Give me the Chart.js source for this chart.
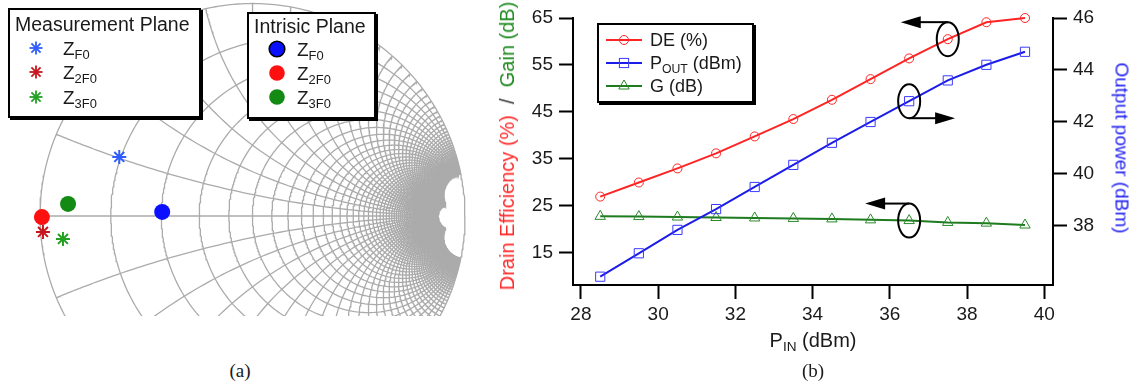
<!DOCTYPE html>
<html>
<head>
<meta charset="utf-8">
<script src="https://cdn.jsdelivr.net/npm/chart.js@4.4.0/dist/chart.umd.min.js"></script>
<style>
  body { margin: 0; background: #fff; font-family: "Liberation Sans", Arial, sans-serif; color: #1a1a1a; }
  #page { position: relative; width: 1134px; height: 387px; overflow: hidden; background: #fff; }
  canvas { position: absolute; }
  #smith { left: 0; top: 0; }
  #perf { left: 490px; top: 0; }
  .box { position: absolute; background: #fff; border: 2px solid #000; box-shadow: 2px 2px 0 #000; box-sizing: border-box; }
  .txt { position: absolute; white-space: nowrap; line-height: 1; }
  .txt sub { font-size: 0.68em; vertical-align: -0.3em; line-height: 1; }
  .mk { position: absolute; }
  .cap { font-family: "Liberation Serif", "Times New Roman", serif; font-size: 19px; transform: translate(-50%, 0); }
</style>
</head>
<body>
<div id="page">
  <canvas id="smith" width="480" height="316"></canvas>
  <canvas id="perf" width="644" height="387"></canvas>
</div>
<script>
// ---------- panel (b): PA performance vs input power ----------
const pinDbm    = [28.5, 29.5, 30.5, 31.5, 32.5, 33.5, 34.5, 35.5, 36.5, 37.5, 38.5, 39.5];
const drainEff  = [27.0, 30.0, 33.0, 36.2, 39.8, 43.5, 47.6, 52.0, 56.4, 60.5, 64.1, 65.0];
const poutDbm   = [36.05, 36.95, 37.85, 38.65, 39.5, 40.35, 41.2, 42.0, 42.8, 43.6, 44.2, 44.7];
const gainDb    = [22.8, 22.75, 22.65, 22.55, 22.45, 22.35, 22.25, 22.05, 21.9, 21.5, 21.35, 20.95];
const pinTicks  = [28, 30, 32, 34, 36, 38, 40];
const leftTicks = [15, 25, 35, 45, 55, 65];
const rightTicks = [38, 40, 42, 44, 46];

// ---------- panel (a): reflection coefficients ----------
const harmonics   = ['F0', '2F0', '3F0'];
const measGammaRe = [-0.627, -0.986, -0.892];
const measGammaIm = [0.278, -0.075, -0.108];
const intrGammaRe = [-0.425, -0.991, -0.868];
const intrGammaIm = [0.019, -0.005, 0.057];
const measColors  = ['#2f5cff', '#c8141e', '#22a022'];
const intrColors  = ['#0a10ff', '#ff1010', '#138a13'];

// Smith chart grid: constant r circles and constant x arcs in 0.2 steps
const rLimit = 15;   // x arcs stop on this resistance circle
const xLimit = 10;   // r circles stop at this reactance
const gridR = [];
for (let i = 1; i <= 50; i++) gridR.push(+(i * 0.2).toFixed(1));
const gridX = gridR.concat(gridR.map(v => -v));

function gamma(r, x) {
    const den = (r + 1) * (r + 1) + x * x;
    return { x: (r * r + x * x - 1) / den, y: 2 * x / den };
}

function buildSmithGrid() {
    const style = { borderColor: '#ababab', borderWidth: 1.3, pointRadius: 0, showLine: true, fill: false, order: 5 };
    const sets = [];
    const ring = [];
    for (let i = 0; i <= 360; i++) {
        const a = i * Math.PI / 180;
        ring.push({ x: Math.cos(a), y: Math.sin(a) });
    }
    sets.push({ ...style, data: ring });
    sets.push({ ...style, data: [gamma(0, 0), gamma(rLimit, 0)] });
    gridR.forEach(r => {
        const pts = [];
        for (let i = -200; i <= 200; i++) {
            const t = i / 200;
            pts.push(gamma(r, xLimit * t * t * t));
        }
        sets.push({ ...style, data: pts });
    });
    gridX.forEach(x => {
        const pts = [];
        for (let i = 0; i <= 150; i++) {
            const t = i / 150;
            pts.push(gamma(rLimit * t * t * t, x));
        }
        sets.push({ ...style, data: pts });
    });
    return sets;
}

function renderSmith() {
    const ctx = document.getElementById('smith').getContext('2d');
    const datasets = [
        {
            label: 'Measurement Plane',
            data: measGammaRe.map((g, i) => ({ x: g, y: measGammaIm[i] })),
            pointStyle: 'star',
            pointRadius: 7,
            pointBorderWidth: 2,
            pointBorderColor: measColors,
            pointBackgroundColor: measColors,
            showLine: false,
            order: 0
        },
        {
            label: 'Intrisic Plane',
            data: intrGammaRe.map((g, i) => ({ x: g, y: intrGammaIm[i] })),
            pointStyle: 'circle',
            pointRadius: 8,
            pointBorderWidth: 0,
            pointBorderColor: intrColors,
            pointBackgroundColor: intrColors,
            showLine: false,
            order: 1
        }
    ].concat(buildSmithGrid());

    new Chart(ctx, {
        type: 'scatter',
        data: { datasets },
        options: {
            responsive: false,
            animation: false,
            events: [],
            normalized: true,
            layout: { padding: 0, autoPadding: false },
            plugins: { legend: { display: false }, tooltip: { enabled: false } },
            scales: {
                x: { type: 'linear', min: -1.1882, max: 1.0706, display: false },
                y: { type: 'linear', min: -0.4706, max: 1.0165, display: false }
            }
        }
    });
}

// arrows + ellipses that tie each curve to its axis
const callouts = [
    { dataset: 0, index: 9, edge: -1, dir: -1, reach: 47 },
    { dataset: 1, index: 8, edge: 1, dir: 1, reach: 46 },
    { dataset: 2, index: 8, edge: -1, dir: -1, reach: 44 }
];

const calloutPlugin = {
    id: 'callouts',
    afterDatasetsDraw(chart) {
        const ctx = chart.ctx;
        callouts.forEach(c => {
            const pt = chart.getDatasetMeta(c.dataset).data[c.index];
            const cx = pt.x, cy = pt.y, rx = 11, ry = 17;
            ctx.save();
            ctx.strokeStyle = '#000';
            ctx.fillStyle = '#000';
            ctx.lineWidth = 2;
            ctx.beginPath();
            ctx.ellipse(cx, cy, rx, ry, 0, 0, Math.PI * 2);
            ctx.stroke();
            const ly = cy + c.edge * ry;
            const tip = cx + c.dir * c.reach;
            ctx.beginPath();
            ctx.moveTo(cx, ly);
            ctx.lineTo(tip - c.dir * 16, ly);
            ctx.stroke();
            ctx.beginPath();
            ctx.moveTo(tip, ly);
            ctx.lineTo(tip - c.dir * 20, ly - 6);
            ctx.lineTo(tip - c.dir * 20, ly + 6);
            ctx.closePath();
            ctx.fill();
            ctx.restore();
        });
    }
};

function axisStyle(ticks, extra) {
    return Object.assign({
        type: 'linear',
        afterBuildTicks: s => { s.ticks = ticks.map(v => ({ value: v })); },
        grid: { display: true, drawOnChartArea: false, drawTicks: true, tickLength: 14, tickWidth: 2, tickColor: '#000' },
        border: { display: true, color: '#000', width: 2 },
        ticks: {
            autoSkip: false,
            maxRotation: 0,
            color: '#1a1a1a',
            padding: 6,
            font: { family: "'Liberation Sans', Arial, sans-serif", size: 19 }
        }
    }, extra);
}

function renderPerformance() {
    const ctx = document.getElementById('perf').getContext('2d');
    const xy = vals => pinDbm.map((p, i) => ({ x: p, y: vals[i] }));
    const xAxis = axisStyle(pinTicks, { position: 'bottom', min: 27.795, max: 40.225, afterFit: s => { s.height = 102; } });
    xAxis.ticks.padding = 4;

    new Chart(ctx, {
        type: 'line',
        data: {
            datasets: [{
                label: 'DE (%)',
                data: xy(drainEff),
                yAxisID: 'yL',
                borderColor: '#ff2424',
                borderWidth: 2,
                pointStyle: 'circle',
                pointRadius: 4.5,
                pointBorderWidth: 1,
                pointBackgroundColor: 'rgba(0,0,0,0)',
                pointBorderColor: '#ff2424',
                clip: false
            }, {
                label: 'POUT (dBm)',
                data: xy(poutDbm),
                yAxisID: 'yR',
                borderColor: '#1c1ce8',
                borderWidth: 2,
                pointStyle: 'rect',
                pointRadius: 6.5,
                pointBorderWidth: 1,
                pointBackgroundColor: 'rgba(0,0,0,0)',
                pointBorderColor: '#3a3aff',
                clip: false
            }, {
                label: 'G (dB)',
                data: xy(gainDb),
                yAxisID: 'yL',
                borderColor: '#1e7b1e',
                borderWidth: 2,
                pointStyle: 'triangle',
                pointRadius: 6,
                pointBorderWidth: 1,
                pointBackgroundColor: 'rgba(0,0,0,0)',
                pointBorderColor: '#2a8a2a',
                clip: false
            }]
        },
        options: {
            responsive: false,
            animation: false,
            events: [],
            layout: { padding: { top: 18, left: 0, right: 0, bottom: 0 }, autoPadding: false },
            plugins: { legend: { display: false }, tooltip: { enabled: false } },
            scales: {
                x: xAxis,
                yL: axisStyle(leftTicks, { position: 'left', min: 8.19, max: 65, afterFit: s => { s.width = 83; } }),
                yR: axisStyle(rightTicks, { position: 'right', min: 35.73, max: 46, afterFit: s => { s.width = 81; } })
            }
        },
        plugins: [calloutPlugin]
    });
}

// ---------- HTML text: legends, axis titles, captions ----------
const page = document.getElementById('page');

function place(html, x, cy, size, css) {
    const d = document.createElement('div');
    d.className = 'txt';
    d.innerHTML = html;
    d.style.left = x + 'px';
    d.style.top = (cy - size * 0.49) + 'px';
    d.style.fontSize = size + 'px';
    if (css) d.setAttribute('style', d.getAttribute('style') + ';' + css);
    page.appendChild(d);
    return d;
}

function box(l, t, r, b) {
    const d = document.createElement('div');
    d.className = 'box';
    Object.assign(d.style, { left: l + 'px', top: t + 'px', width: (r - l) + 'px', height: (b - t) + 'px' });
    page.appendChild(d);
}

function marker(svg, cx, cy, w, h) {
    const d = document.createElement('div');
    d.className = 'mk';
    Object.assign(d.style, { left: (cx - w / 2) + 'px', top: (cy - h / 2) + 'px', width: w + 'px', height: h + 'px' });
    d.innerHTML = `<svg width="${w}" height="${h}" viewBox="0 0 ${w} ${h}">${svg}</svg>`;
    page.appendChild(d);
}

function starSvg(color, c, r) {
    const d = r * Math.SQRT1_2;
    return `<g stroke="${color}" stroke-width="1.8">
      <line x1="${c - r}" y1="${c}" x2="${c + r}" y2="${c}"/><line x1="${c}" y1="${c - r}" x2="${c}" y2="${c + r}"/>
      <line x1="${c - d}" y1="${c - d}" x2="${c + d}" y2="${c + d}"/><line x1="${c - d}" y1="${c + d}" x2="${c + d}" y2="${c - d}"/></g>`;
}

function drawLegends() {
    // Smith chart: measurement plane
    box(8, 8, 201, 118);
    place('Measurement Plane', 15, 25, 19.5);
    [48, 72, 97].forEach((y, i) => {
        marker(starSvg(measColors[i], 8, 6.5), 36, y, 16, 16);
        place(`Z<sub>${harmonics[i]}</sub>`, 63, y, 19);
    });
    // Smith chart: intrinsic plane
    box(247, 12, 376, 119);
    place('Intrisic Plane', 254, 27, 19.5);
    [49, 73, 97].forEach((y, i) => {
        const stroke = i === 0 ? ' stroke="#000" stroke-width="1.6"' : '';
        marker(`<circle cx="10" cy="10" r="7.8" fill="${intrColors[i]}"${stroke}/>`, 277, y, 20, 20);
        place(`Z<sub>${harmonics[i]}</sub>`, 297, y, 19);
    });

    // performance chart legend
    box(597, 23, 754, 103);
    const rows = [
        { y: 40, color: '#ff2424', shape: '<circle cx="18" cy="8" r="4.5" fill="none" stroke="#ff2424" stroke-width="1"/>', text: 'DE (%)' },
        { y: 63, color: '#1c1ce8', shape: '<rect x="13.4" y="3.4" width="9.2" height="9.2" fill="none" stroke="#3a3aff" stroke-width="1"/>', text: 'P<sub>OUT</sub> (dBm)' },
        { y: 86, color: '#1e7b1e', shape: '<polygon points="18,2 23.2,11 12.8,11" fill="none" stroke="#2a8a2a" stroke-width="1"/>', text: 'G (dB)' }
    ];
    rows.forEach(r => {
        marker(`<line x1="0" y1="8" x2="36" y2="8" stroke="${r.color}" stroke-width="2"/>${r.shape}`, 624, r.y, 36, 16);
        place(r.text, 650, r.y, 18);
    });

    // axis titles
    const left = place('<span style="color:#ff2b2b">Drain Efficiency (%)</span><span style="color:#333">&nbsp; /&nbsp; </span><span style="color:#1f8a1f">Gain (dB)</span>', 507, 146, 20);
    left.style.top = '146px';
    left.style.transform = 'translate(-50%, -50%) rotate(-90deg)';
    const right = place('<span style="color:#2424f0">Output power (dBm)</span>', 1122, 148, 19);
    right.style.top = '148px';
    right.style.transform = 'translate(-50%, -50%) rotate(90deg)';
    const xt = place('P<sub>IN</sub> (dBm)', 813, 340, 20);
    xt.style.transform = 'translate(-50%, 0)';

    // captions
    const a = place('(a)', 240, 370, 19);
    a.classList.add('cap');
    const b = place('(b)', 813, 370, 19);
    b.classList.add('cap');
}

window.onload = () => {
    renderSmith();
    renderPerformance();
    drawLegends();
};
</script>
</body>
</html>
